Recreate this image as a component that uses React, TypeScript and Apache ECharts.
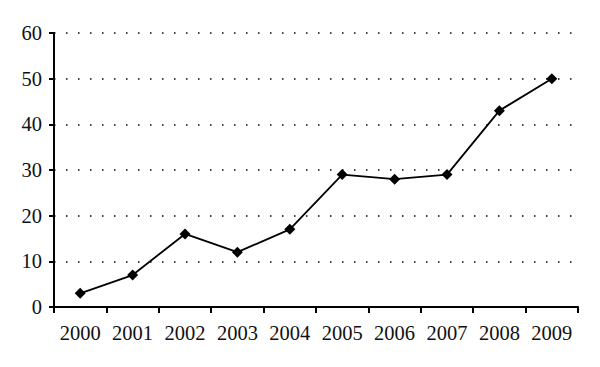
import React, { useEffect, useRef } from "react";
import * as echarts from "echarts";

const years = ["2000", "2001", "2002", "2003", "2004", "2005", "2006", "2007", "2008", "2009"];
const values = [3, 7, 16, 12, 17, 29, 28, 29, 43, 50];

export default function App() {
  const ref = useRef<HTMLDivElement>(null);
  useEffect(() => {
    const chart = echarts.init(ref.current!, undefined, { renderer: "svg" });
    const font = "'Liberation Serif', 'DejaVu Serif', serif";
    chart.setOption({
      animation: false,
      grid: { left: 54, right: 22, top: 33, bottom: 60 },
      xAxis: {
        type: "category",
        data: years,
        boundaryGap: true,
        axisLine: { lineStyle: { color: "#000", width: 2 } },
        axisTick: { show: true, length: 6, alignWithLabel: false, lineStyle: { color: "#000", width: 2 } },
        axisLabel: { color: "#111", fontFamily: font, fontSize: 20.5, margin: 15, interval: 0 },
        splitLine: { show: false },
      },
      yAxis: {
        type: "value",
        min: 0,
        max: 60,
        interval: 10,
        axisLine: { show: true, lineStyle: { color: "#000", width: 2 } },
        axisTick: { show: true, length: 5, lineStyle: { color: "#000", width: 2 } },
        axisLabel: { color: "#111", fontFamily: font, fontSize: 20.5, margin: 12 },
        splitLine: {
          show: true,
          lineStyle: { color: "#000", width: 1.5, type: [1.5, 10.5] },
        },
      },
      series: [
        {
          type: "line",
          data: values,
          symbol: "diamond",
          symbolSize: 11,
          itemStyle: { color: "#000" },
          lineStyle: { color: "#000", width: 1.8 },
        },
      ],
    });
    return () => chart.dispose();
  }, []);
  return <div ref={ref} style={{ width: 600, height: 367, position: "absolute", left: 0, top: 0, background: "#fff" }} />;
}
